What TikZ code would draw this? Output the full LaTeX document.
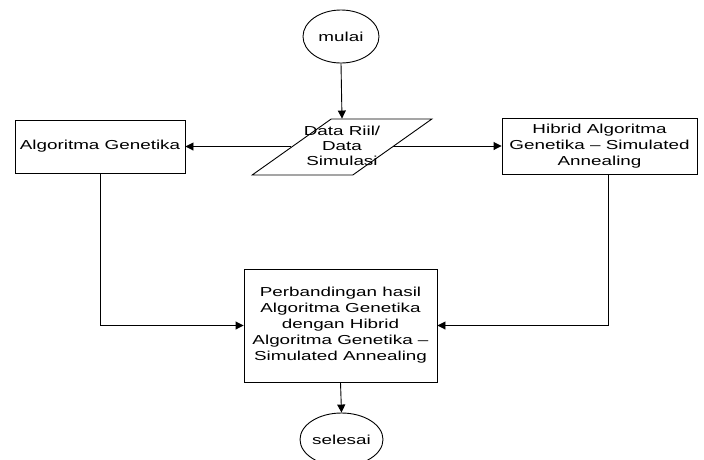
\documentclass[tikz,border=0pt]{standalone}
\usepackage{fontspec}
\setmainfont[FakeStretch=1.45]{Liberation Sans}
\usetikzlibrary{shapes.geometric,arrows.meta}
\begin{document}
\begin{tikzpicture}[x=1pt,y=-1pt,
  every node/.style={font=\fontsize{13}{16}\selectfont, align=center, inner sep=0pt},
  lw/.style={line width=0.9pt},
  box/.style={draw, rectangle, lw},
  term/.style={draw, ellipse, lw},
  arr/.style={lw, -{Triangle[length=8pt,width=8pt]}}]
\useasboundingbox (0,0) rectangle (704,459);
\clip (0,0) rectangle (704,459);
\node[term, minimum width=76, minimum height=53] (mulai) at (341,36.5) {mulai};
\node[draw, lw, trapezium, trapezium left angle=53.8, trapezium right angle=126.2,
      trapezium stretches=true, inner sep=2pt, minimum width=180, minimum height=56] (data) at (342,147) {\strut};
\node (datatext) at (342,146) {Data Riil/\\[-1pt]Data\\[-1pt]Simulasi};
\node[box, minimum width=170, minimum height=53] (ag) at (100,146.5) {Algoritma Genetika};
\node[box, minimum width=195, minimum height=56] (hy) at (599.5,146) {Hibrid Algoritma\\Genetika -- Simulated\\Annealing};
\node[box, minimum width=193, minimum height=113] (cmp) at (340.5,325.5)
  {Perbandingan hasil\\Algoritma Genetika\\dengan Hibrid\\Algoritma Genetika --\\Simulated Annealing};
\node[term, minimum width=71, minimum height=53] (selesai) at (341.5,439.5) {selesai};
\coordinate (hyout) at ([xshift=8.5pt]hy.south);
\draw[arr] (mulai.south) -- (data.north);
\draw[arr] (data.west |- ag.east) -- (ag.east);
\draw[arr] (data.east |- hy.west) -- (hy.west);
\draw[arr] (ag.south) |- (cmp.west);
\draw[arr] (hyout) |- (cmp.east);
\draw[arr] (cmp.south) -- (selesai.north);
\end{tikzpicture}
\end{document}
